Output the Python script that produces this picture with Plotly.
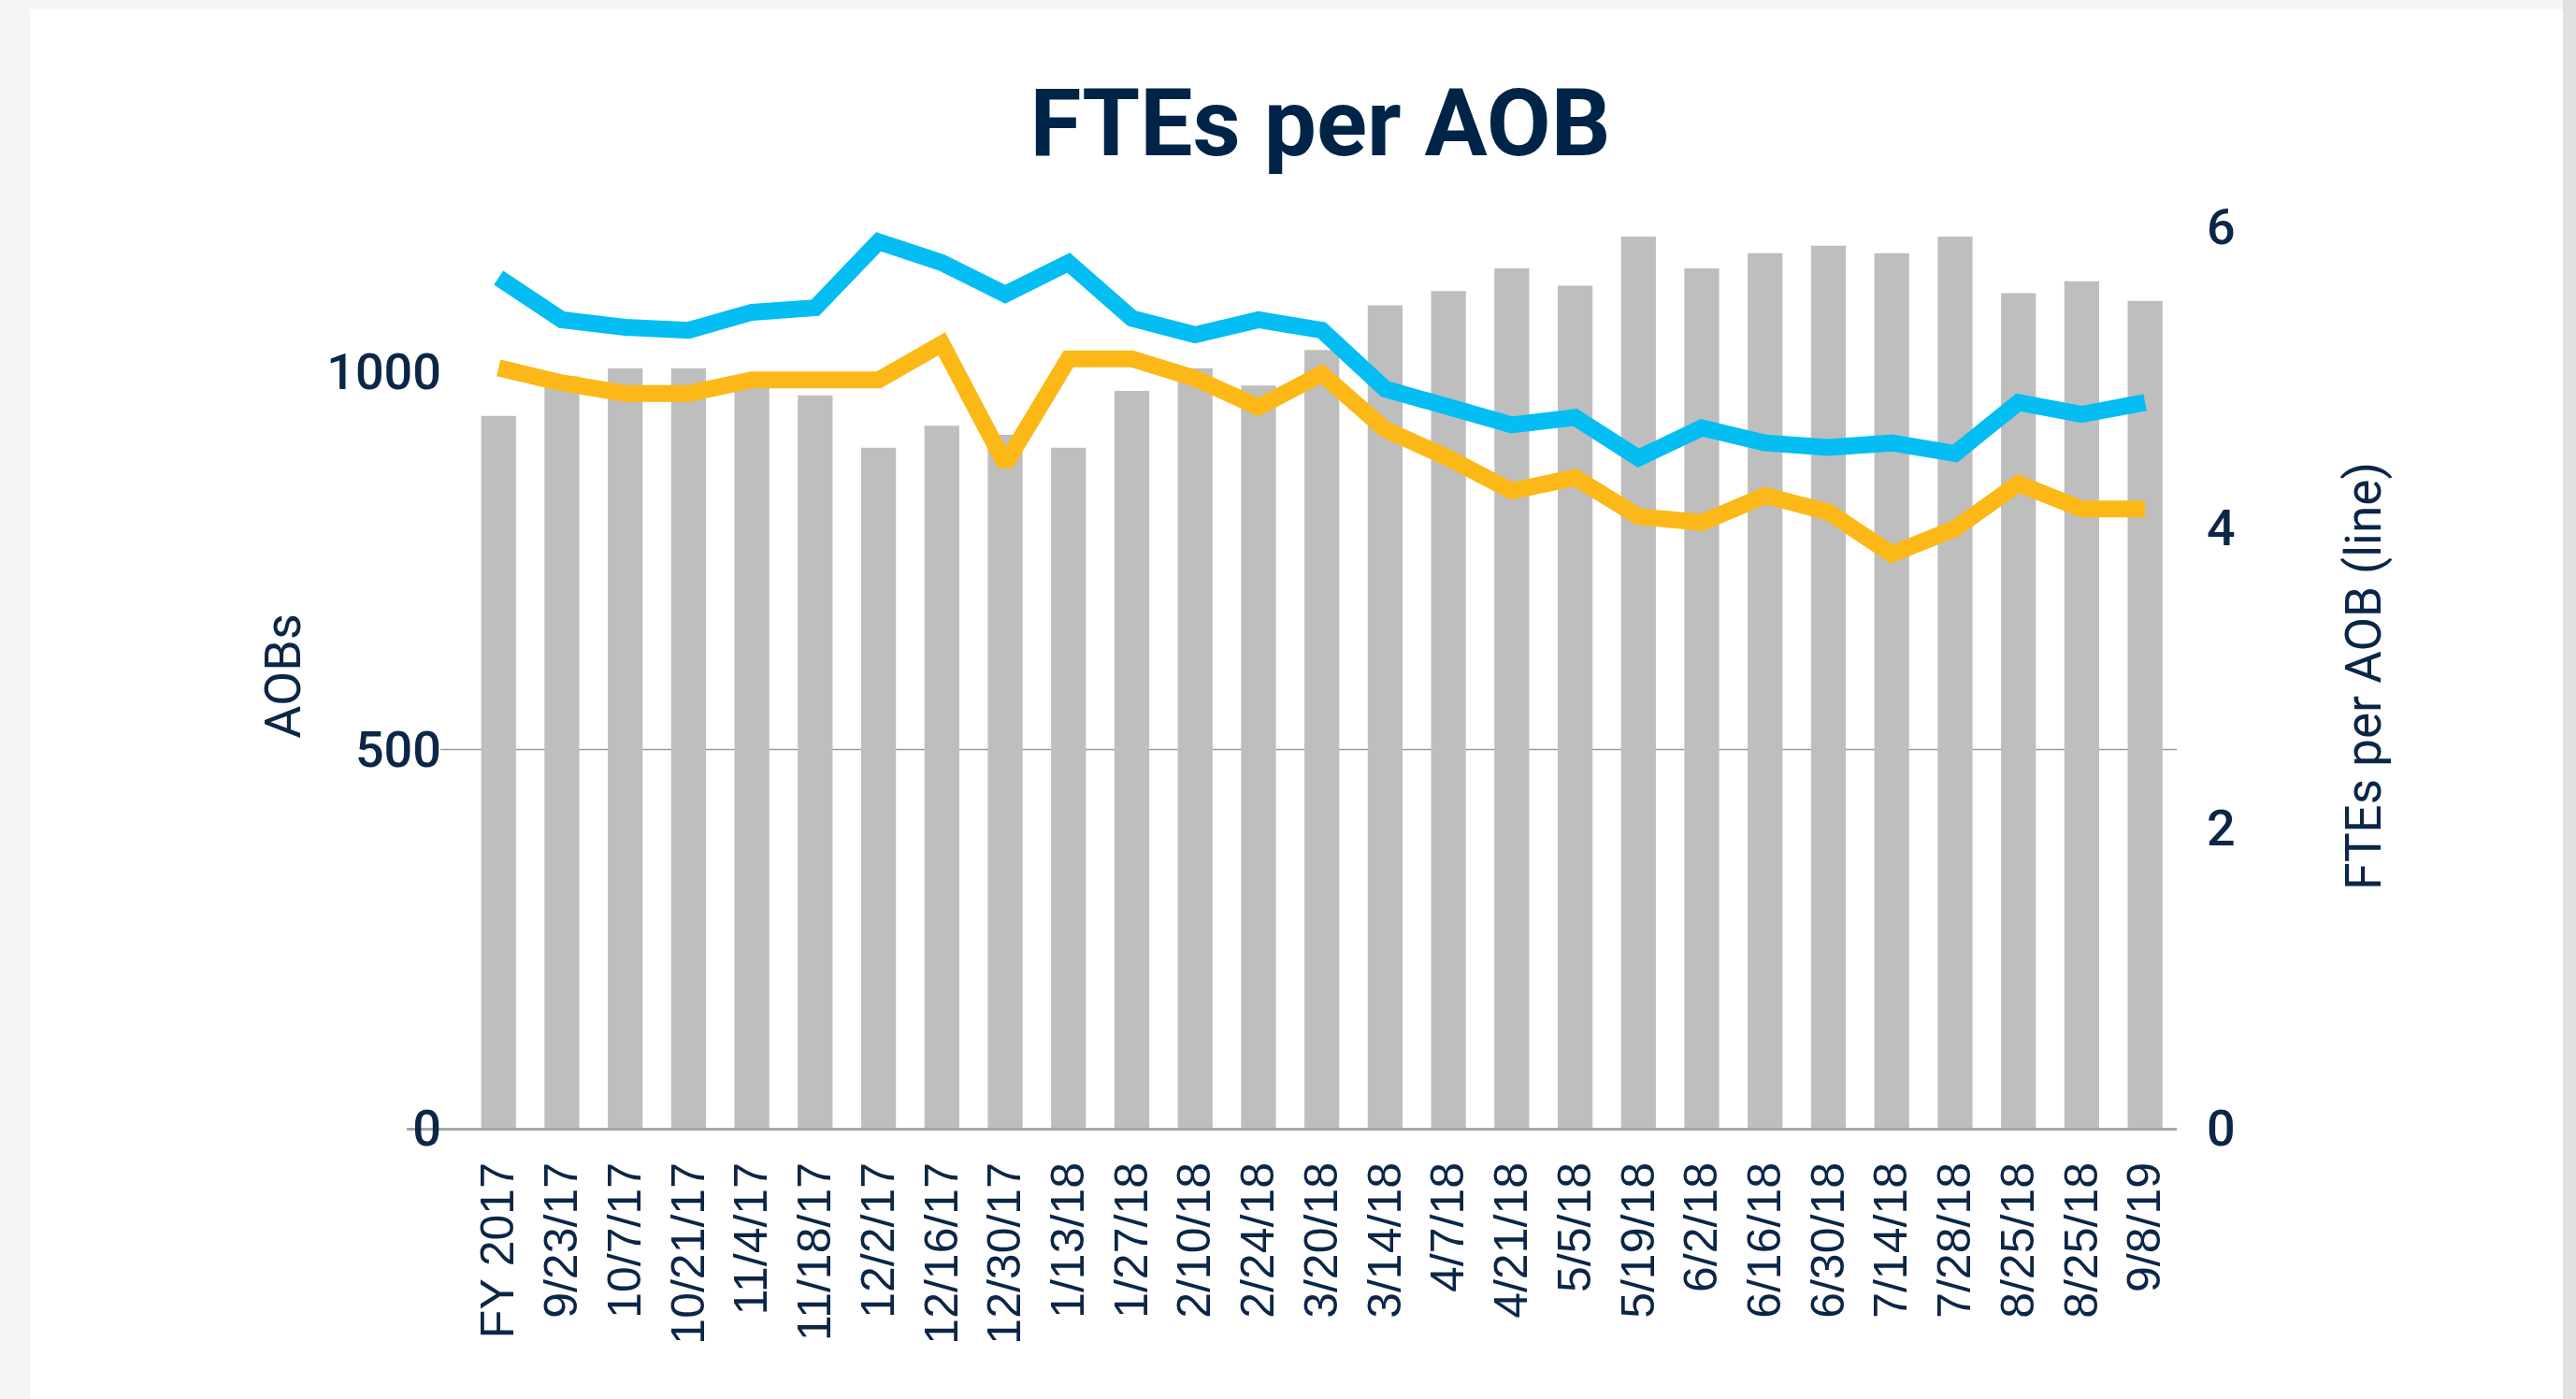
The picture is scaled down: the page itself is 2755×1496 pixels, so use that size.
import plotly.graph_objects as go

categories = ["FY 2017", "9/23/17", "10/7/17", "10/21/17", "11/4/17", "11/18/17", "12/2/17",
              "12/16/17", "12/30/17", "1/13/18", "1/27/18", "2/10/18", "2/24/18", "3/20/18",
              "3/14/18", "4/7/18", "4/21/18", "5/5/18", "5/19/18", "6/2/18", "6/16/18",
              "6/30/18", "7/14/18", "7/28/18", "8/25/18", "8/25/18", "9/8/19"]

aobs = [941, 993, 1004, 1004, 986, 968, 899, 928, 916, 899, 974, 1004, 981, 1028,
        1087, 1106, 1136, 1113, 1178, 1136, 1156, 1166, 1156, 1178, 1103, 1119, 1093]

ftes_blue = [5.66, 5.38, 5.33, 5.31, 5.43, 5.46, 5.90, 5.76, 5.55, 5.76, 5.39, 5.28, 5.38, 5.31,
             4.92, 4.80, 4.68, 4.73, 4.46, 4.66, 4.56, 4.53, 4.56, 4.49, 4.83, 4.75, 4.83]

ftes_orange = [5.06, 4.96, 4.89, 4.89, 4.98, 4.99, 4.98, 5.22, 4.42, 5.12, 5.12, 4.99, 4.80, 5.02,
               4.65, 4.46, 4.24, 4.33, 4.07, 4.03, 4.21, 4.10, 3.82, 3.99, 4.29, 4.12, 4.12]

left_ticks = [0, 500, 1000]
right_ticks = [0, 2, 4, 6]

NAVY = "#0b2647"
x = list(range(len(categories)))

W, H = 2755, 1496
L, R, T, B = 435, 2328, 240, 1206
pw, ph = R - L, B - T


def px(v):
    return (v - L) / pw


def py(v):
    return (B - v) / ph


fig = go.Figure()
fig.add_trace(go.Bar(x=x, y=aobs, name="AOBs", marker=dict(color="#bebebe", line=dict(width=0)),
                     width=0.55, yaxis="y"))
fig.add_trace(go.Scatter(x=x, y=ftes_blue, name="FTEs per AOB", mode="lines",
                         line=dict(color="#04bdf2", width=18), yaxis="y2"))
fig.add_trace(go.Scatter(x=x, y=ftes_orange, name="FTEs per AOB (alt)", mode="lines",
                         line=dict(color="#fbb817", width=18), yaxis="y2"))

shapes = [
    dict(type="rect", xref="paper", yref="paper", x0=px(32), x1=px(2741), y0=py(1496), y1=py(10),
         fillcolor="white", line=dict(width=0), layer="below"),
    dict(type="rect", xref="paper", yref="paper", x0=px(2741), x1=px(2755), y0=py(1496), y1=py(0),
         fillcolor="#e1e1e1", line=dict(width=0), layer="below"),
    dict(type="line", xref="paper", yref="y", x0=px(471), x1=1, y0=500, y1=500,
         line=dict(color="#9a9a9a", width=1.5), layer="below"),
]

fig.update_layout(
    width=W, height=H,
    margin=dict(l=L, r=W - R, t=T, b=H - B, pad=0),
    paper_bgcolor="#f5f5f5",
    plot_bgcolor="white",
    showlegend=False,
    bargap=0.45,
    title=dict(text="<b>FTEs per AOB</b>", x=1412 / W, xanchor="center", y=1 - 131 / H,
               yanchor="middle", xref="container", yref="container",
               font=dict(family="Roboto", size=100, color="#002448")),
    xaxis=dict(range=[-1.45, 26.5], tickmode="array", tickvals=x, ticktext=categories,
               tickangle=-90, ticks="", showgrid=False, zeroline=False,
               showline=True, linecolor="#a6a6a6", linewidth=3,
               tickfont=dict(family="Liberation Sans", size=50, color=NAVY),
               ticklabelstandoff=14),
    yaxis=dict(range=[0, 1194], tickmode="array", tickvals=left_ticks, ticks="",
               showgrid=False, zeroline=False, showline=False,
               tickfont=dict(family="Roboto", size=54, color=NAVY, weight=500),
               ticklabelstandoff=-38,
               title=dict(text="AOBs", standoff=10,
                          font=dict(family="Roboto", size=54, color=NAVY, weight=400))),
    yaxis2=dict(range=[0, 6.015], tickmode="array", tickvals=right_ticks, ticks="",
                overlaying="y", side="right", showgrid=False, zeroline=False, showline=False,
                tickfont=dict(family="Roboto", size=54, color=NAVY, weight=500),
                ticklabelstandoff=31,
                title=dict(text="FTEs per AOB (line)", standoff=119,
                           font=dict(family="Roboto", size=53, color=NAVY, weight=400))),
    shapes=shapes,
)

fig.write_html("out.html")
